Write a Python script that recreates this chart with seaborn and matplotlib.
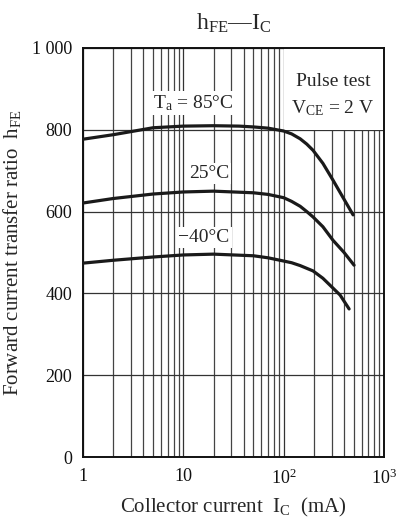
import matplotlib
matplotlib.use("Agg")
import matplotlib.pyplot as plt
import matplotlib.ticker as mticker
from matplotlib.patches import Rectangle
import seaborn as sns
import pandas as pd

# ---- data ----
ic_85 = [1, 2, 5, 10, 20, 36, 50, 70, 100, 120, 146, 170, 196, 246, 310, 400, 492]
hfe_85 = [777, 788, 805, 809, 810, 809, 807, 804, 797, 790, 778, 765, 750, 718, 677, 630, 592]

ic_25 = [1, 2, 5, 10, 20, 50, 70, 100, 120, 146, 170, 196, 246, 310, 400, 503]
hfe_25 = [621, 632, 643, 648, 650, 646, 642, 634, 625, 613, 600, 587, 563, 530, 500, 469]

ic_m40 = [1, 2, 5, 10, 20, 50, 70, 92, 120, 146, 196, 246, 310, 365, 449]
hfe_m40 = [474, 481, 489, 494, 496, 492, 487, 481, 475, 468, 455, 437, 413, 396, 362]

x_ticks = [1, 10, 100, 1000]
x_ticklabels = ["1", "10", r"$\mathregular{10^2}$", r"$\mathregular{10^3}$"]
y_ticks = [0, 200, 400, 600, 800, 1000]
y_ticklabels = ["0", "200", "400", "600", "800", "1 000"]

df = pd.concat([
    pd.DataFrame({"Ic": ic_85, "hFE": hfe_85, "T": "85"}),
    pd.DataFrame({"Ic": ic_25, "hFE": hfe_25, "T": "25"}),
    pd.DataFrame({"Ic": ic_m40, "hFE": hfe_m40, "T": "-40"}),
])

sns.set_theme(style="white")
plt.rcParams["font.family"] = ["Liberation Serif", "DejaVu Serif"]
plt.rcParams["mathtext.fontset"] = "custom"
plt.rcParams["mathtext.rm"] = "Liberation Serif"
plt.rcParams["mathtext.it"] = "Liberation Serif"

fig = plt.figure(figsize=(4.05, 5.19), dpi=100)
ax = fig.add_axes([83/405, 1-457/519, (384-83)/405, (457-48)/519])

sns.lineplot(data=df, x="Ic", y="hFE", hue="T", palette=["#1a1a1a"]*3,
             linewidth=2.3, legend=False, ax=ax, zorder=5, sort=False)

ax.set_xscale("log")
ax.set_xlim(1, 1000)
ax.set_ylim(0, 1000)
ax.xaxis.set_minor_locator(mticker.LogLocator(base=10, subs=range(2, 10)))
ax.xaxis.set_minor_formatter(mticker.NullFormatter())
ax.set_xticks(x_ticks)
ax.set_xticklabels(x_ticklabels)
ax.set_yticks(y_ticks)
ax.set_yticklabels(y_ticklabels)
ax.tick_params(axis="both", which="both", length=0, labelsize=13, colors="#111111")
ax.tick_params(axis="x", pad=8)
ax.tick_params(axis="y", pad=8)

ax.grid(True, which="major", axis="both", color="#333333", linewidth=0.9, zorder=1)
ax.grid(True, which="minor", axis="x", color="#444444", linewidth=0.9, zorder=1)
ax.set_axisbelow(True)

for sp in ax.spines.values():
    sp.set_color("#111111")
    sp.set_linewidth(1.4)

# white cell behind "Pulse test"
ax.add_patch(Rectangle((100, 800), 900, 200, facecolor="white", edgecolor="none", zorder=2))
ax.text(311, 917, "Pulse test", ha="center", va="center", fontsize=14, zorder=6)
ax.text(311, 852, r"$\mathregular{V_{CE}}$ = 2 V", ha="center", va="center", fontsize=14, zorder=6)

bb = dict(facecolor="white", edgecolor="none", pad=1.5)
ax.text(12.5, 866, r"$\mathregular{T_a}$ = 85°C", ha="center", va="center", fontsize=14, bbox=bb, zorder=4)
ax.text(18, 694, "25°C", ha="center", va="center", fontsize=14, bbox=bb, zorder=4)
ax.text(16, 536, "\u221240°C", ha="center", va="center", fontsize=14, bbox=bb, zorder=4)

ax.set_title(r"$\mathregular{h_{FE}}$—$\mathregular{I_C}$", fontsize=17, pad=13)
ax.set_xlabel(r"Collector current  $\mathregular{I_C}$  (mA)", fontsize=15, labelpad=6)
ax.set_ylabel(r"Forward current transfer ratio  $\mathregular{h_{FE}}$", fontsize=15, labelpad=6)

fig.savefig("out.png", dpi=100)
